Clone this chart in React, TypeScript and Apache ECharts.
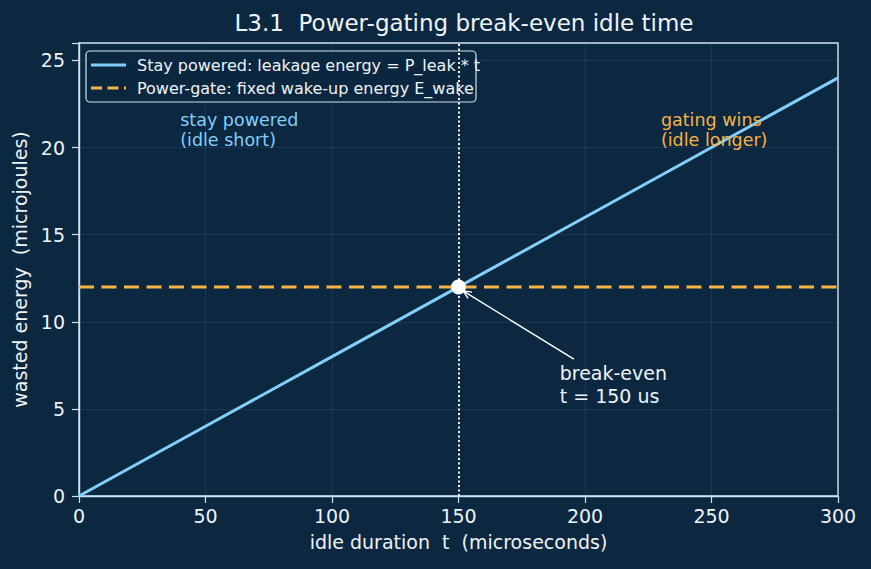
import React, { useEffect, useRef } from "react";
import * as echarts from "echarts";

// idle duration (microseconds) and energies (microjoules)
const idleTimes = [0, 50, 100, 150, 200, 250, 300];
const leakageEnergy = [0, 4, 8, 12, 16, 20, 24];
const wakeEnergy = [12, 12, 12, 12, 12, 12, 12];
const breakEvenT = 150;
const breakEvenE = 12;
const xTicks = { min: 0, max: 300, interval: 50 };
const yTicks = { min: 0, max: 26, interval: 5 };

const seriesNames = [
  "Stay powered: leakage energy = P_leak * t",
  "Power-gate: fixed wake-up energy E_wake",
];
// region notes: [t, energy] anchor (text vertically centred on it)
const noteStay = { at: [40, 21], text: "stay powered\n(idle short)" };
const noteGate = { at: [230, 21], text: "gating wins\n(idle longer)" };
const noteEven = { at: [190, 6.4], text: "break-even\nt = 150 us" };
const arrowTail = [195.6, 7.86];
const arrowHead = [151.8, 11.77];

const BG = "#0c2740";
const BLUE = "#80d0fb";
const ORANGE = "#f6b346";
const AXIS = "#cfe2f0";
const TEXT = "#eef3f8";
const FONT = "DejaVu Sans";

export default function App() {
  const ref = useRef<HTMLDivElement>(null);
  useEffect(() => {
    if (!ref.current) return;
    const chart = echarts.init(ref.current, undefined, { renderer: "svg" });
    const axisCommon = {
      nameLocation: "middle",
      nameTextStyle: { color: TEXT, fontSize: 19, fontFamily: FONT },
      axisLine: { show: true, lineStyle: { color: AXIS, width: 1.4 } },
      axisTick: { show: true, length: 7, lineStyle: { color: AXIS, width: 1.2 } },
      splitLine: { show: true, lineStyle: { color: "rgba(255,255,255,0.09)", width: 0.8 } },
    };
    chart.setOption({
      animation: false,
      backgroundColor: BG,
      textStyle: { fontFamily: FONT },
      title: {
        text: "L3.1  Power-gating break-even idle time",
        left: 459,
        textAlign: "center",
        top: 6,
        textStyle: { color: TEXT, fontSize: 23, fontWeight: "normal", fontFamily: FONT },
      },
      grid: {
        left: 79, right: 33, top: 43, bottom: 73,
        show: true, borderColor: AXIS, borderWidth: 1.4, backgroundColor: "transparent",
      },
      xAxis: {
        type: "value", ...xTicks, ...axisCommon,
        name: "idle duration  t  (microseconds)",
        nameGap: 36,
        axisLabel: { color: TEXT, fontSize: 19, margin: 10, fontFamily: FONT },
      },
      yAxis: {
        type: "value", ...yTicks, ...axisCommon,
        name: "wasted energy  (microjoules)",
        nameGap: 50,
        axisLabel: { color: TEXT, fontSize: 19, margin: 14, fontFamily: FONT,
          formatter: (v: number) => (v % 5 === 0 ? String(v) : "") },
      },
      series: [
        {
          name: seriesNames[0],
          type: "line",
          data: idleTimes.map((t, i) => [t, leakageEnergy[i]]),
          symbol: "none",
          lineStyle: { color: BLUE, width: 3 },
          itemStyle: { color: BLUE },
          z: 3,
        },
        {
          name: seriesNames[1],
          type: "line",
          data: idleTimes.map((t, i) => [t, wakeEnergy[i]]),
          symbol: "none",
          lineStyle: { color: ORANGE, width: 3, type: [15, 7.5] },
          itemStyle: { color: ORANGE },
          z: 3,
          markLine: {
            silent: true,
            symbol: ["none", "none"],
            label: { show: false },
            lineStyle: { color: "#ffffff", width: 1.9, type: [1.9, 2.6] },
            data: [{ xAxis: breakEvenT }],
          },
        },
        {
          name: "break-even",
          type: "scatter",
          data: [[breakEvenT, breakEvenE]],
          symbol: "circle",
          symbolSize: 15,
          itemStyle: { color: "#ffffff", opacity: 1 },
          z: 5,
        },
      ],
    });

    // annotations anchored in data space
    const px = (p: number[]) => chart.convertToPixel({ gridIndex: 0 }, p) as number[];
    const note = (n: { at: number[]; text: string }, color: string, size: number, lh: number) => {
      const [x, y] = px(n.at);
      return {
        type: "text", x, y, z: 20,
        style: { text: n.text, fill: color, font: `${size}px "${FONT}"`, lineHeight: lh,
          textAlign: "left", textVerticalAlign: "middle" },
      };
    };
    const [tx, ty] = px(arrowTail);
    const [hx, hy] = px(arrowHead);
    const ang = Math.atan2(ty - hy, tx - hx);
    const hl = 9, spread = 0.42;
    const chevron = [
      [hx + hl * Math.cos(ang + spread), hy + hl * Math.sin(ang + spread)],
      [hx, hy],
      [hx + hl * Math.cos(ang - spread), hy + hl * Math.sin(ang - spread)],
    ];

    // legend box
    const lx = 86, ly = 51, lw = 390, lh = 51;
    const legend = {
      type: "group", z: 30,
      children: [
        { type: "rect", shape: { x: lx, y: ly, width: lw, height: lh, r: 4 },
          style: { fill: "rgba(12,39,64,0.85)", stroke: AXIS, lineWidth: 1.2 } },
        { type: "line", shape: { x1: lx + 5, y1: ly + 14, x2: lx + 40, y2: ly + 14 },
          style: { stroke: BLUE, lineWidth: 3 } },
        { type: "line", shape: { x1: lx + 5, y1: ly + 37, x2: lx + 40, y2: ly + 37 },
          style: { stroke: ORANGE, lineWidth: 3, lineDash: [11, 5.5] } },
        { type: "text", x: lx + 51, y: ly + 14,
          style: { text: seriesNames[0], fill: TEXT, font: `16px "${FONT}"`, textVerticalAlign: "middle" } },
        { type: "text", x: lx + 51, y: ly + 37,
          style: { text: seriesNames[1], fill: TEXT, font: `16px "${FONT}"`, textVerticalAlign: "middle" } },
      ],
    };

    chart.setOption({
      graphic: [
        legend,
        note(noteStay, BLUE, 17.5, 20.5),
        note(noteGate, ORANGE, 17.5, 20.5),
        note(noteEven, TEXT, 19, 22.5),
        { type: "line", z: 20, shape: { x1: tx, y1: ty, x2: hx, y2: hy },
          style: { stroke: "#ffffff", lineWidth: 1.4 } },
        { type: "polyline", z: 20, shape: { points: chevron },
          style: { stroke: "#ffffff", lineWidth: 1.4, fill: "none" } },
      ],
    });
    return () => chart.dispose();
  }, []);
  return <div ref={ref} style={{ width: 871, height: 569, position: "fixed", left: 0, top: 0 }} />;
}
